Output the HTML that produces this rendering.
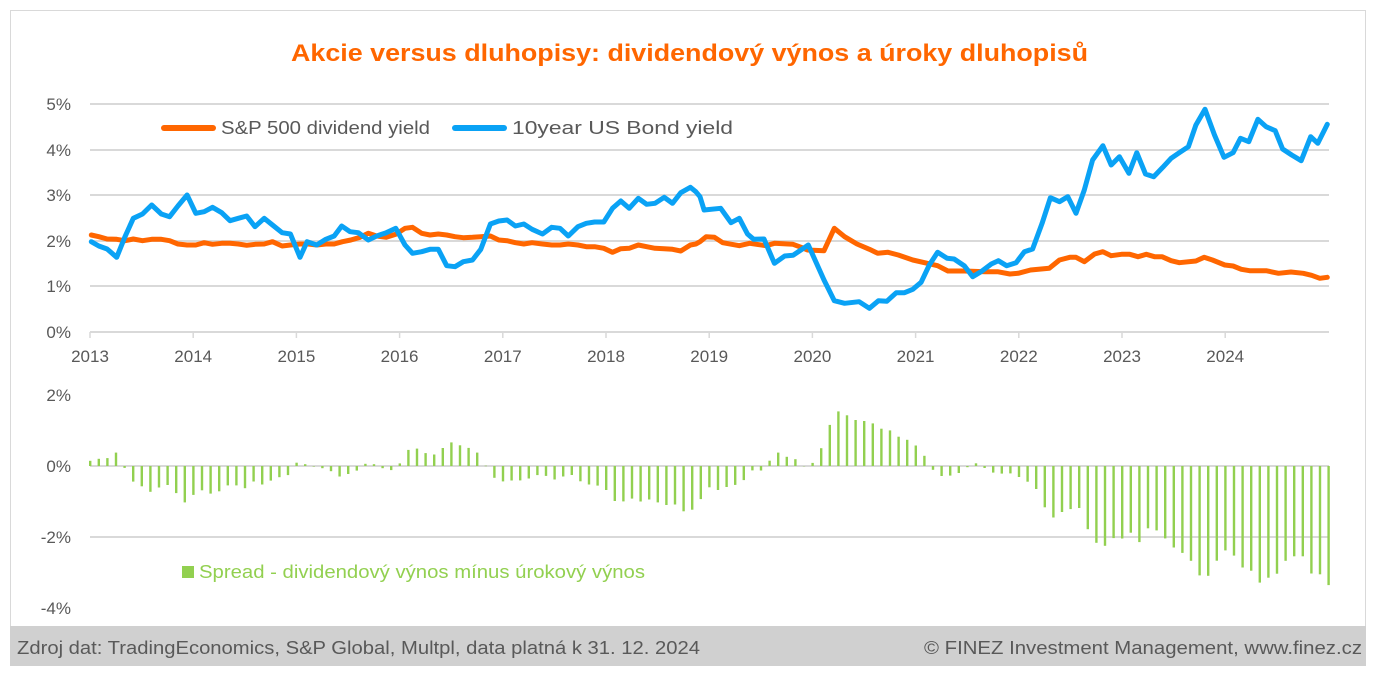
<!DOCTYPE html>
<html><head><meta charset="utf-8"><style>
html,body{margin:0;padding:0;background:#fff;}
svg{display:block;font-family:"Liberation Sans",sans-serif;}
</style></head><body>
<svg id="c" width="1383" height="676" viewBox="0 0 1383 676" xmlns="http://www.w3.org/2000/svg">
<rect x="0" y="0" width="1383" height="676" fill="#fff"/>
<rect x="10.5" y="10.5" width="1355" height="655" fill="#fff" stroke="#d9d9d9"/>
<text x="291" y="61" font-size="24" font-weight="bold" fill="#ff6600" textLength="797" lengthAdjust="spacingAndGlyphs">Akcie versus dluhopisy: dividendový výnos a úroky dluhopisů</text>
<g stroke="#d9d9d9" stroke-width="2">
<line x1="90" y1="104" x2="1329" y2="104"/><line x1="90" y1="150" x2="1329" y2="150"/>
<line x1="90" y1="195" x2="1329" y2="195"/><line x1="90" y1="241" x2="1329" y2="241"/>
<line x1="90" y1="286" x2="1329" y2="286"/><line x1="90" y1="332" x2="1329" y2="332"/>
<line x1="90" y1="466" x2="1329" y2="466"/><line x1="90" y1="537" x2="1329" y2="537"/>
</g>
<g id="ticks" stroke="#d9d9d9" stroke-width="1.5"></g>
<g font-size="17" fill="#595959" text-anchor="end">
<text x="71" y="110">5%</text><text x="71" y="156">4%</text><text x="71" y="201">3%</text>
<text x="71" y="247">2%</text><text x="71" y="292">1%</text><text x="71" y="338">0%</text>
<text x="71" y="401">2%</text><text x="71" y="472">0%</text><text x="71" y="543">-2%</text><text x="71" y="614">-4%</text>
</g>
<g id="years" font-size="17" fill="#595959" text-anchor="middle"></g>
<g id="bars" fill="#92d050"></g>
<polyline id="po" fill="none" stroke="#ff6600" stroke-width="5" stroke-linejoin="round" stroke-linecap="round"/>
<polyline id="pb" fill="none" stroke="#0aa2f5" stroke-width="5" stroke-linejoin="round" stroke-linecap="round"/>
<line x1="164" y1="128" x2="213" y2="128" stroke="#ff6600" stroke-width="6" stroke-linecap="round"/>
<text x="221" y="134" font-size="18" fill="#595959" textLength="209" lengthAdjust="spacingAndGlyphs">S&amp;P 500 dividend yield</text>
<line x1="455" y1="128" x2="504" y2="128" stroke="#0aa2f5" stroke-width="6" stroke-linecap="round"/>
<text x="512" y="134" font-size="18" fill="#595959" textLength="221" lengthAdjust="spacingAndGlyphs">10year US Bond yield</text>
<rect x="182" y="566" width="12" height="12" fill="#92d050"/>
<text x="199" y="578" font-size="18" fill="#92d050" textLength="446" lengthAdjust="spacingAndGlyphs">Spread - dividendový výnos mínus úrokový výnos</text>
<rect x="10" y="626" width="1356" height="40" fill="#d0d0d0"/>
<text x="17" y="654" font-size="18" fill="#595959" textLength="683" lengthAdjust="spacingAndGlyphs">Zdroj dat: TradingEconomics, S&amp;P Global, Multpl, data platná k 31. 12. 2024</text>
<text x="924" y="654" font-size="18" fill="#595959" textLength="438" lengthAdjust="spacingAndGlyphs">© FINEZ Investment Management, www.finez.cz</text>
</svg>
<script>
var NS="http://www.w3.org/2000/svg";
function L(a){var r=[];for(var i=0;i<a.length;i+=2){r.push([80+a[i]/2.4,90+a[i+1]/3]);}return r;}
function R(a){var r=[];for(var i=0;i<a.length;i+=2){r.push([700+a[i]/2.42,90+a[i+1]/3]);}return r;}
var bl=L([27,455,45,468,65,477,88,502,108,440,128,385,150,372,172,345,195,372,215,380,235,348,257,315,278,370,298,365,318,352,340,368,360,392,380,385,400,378,420,410,442,385,462,405,485,428,505,432,528,502,545,455,568,465,590,448,610,438,628,408,648,425,668,428,692,450,712,438,735,428,758,415,780,465,798,490,820,485,840,478,860,478,880,527,900,530,920,515,942,510,962,478,985,402,1005,393,1025,390,1045,408,1065,402,1085,418,1110,432,1132,412,1152,415,1172,438,1195,410,1215,400,1235,396,1257,396,1278,355,1298,333,1318,355,1340,325,1360,343,1380,340,1402,322,1422,340,1442,308,1465,292,1478,305]);
var br=R([0,320,10,360,50,355,75,398,95,385,115,432,130,448,155,447,180,520,205,498,225,496,262,465,300,570,325,632,350,640,385,635,410,655,432,632,452,634,475,608,495,608,515,598,535,577,555,525,575,487,598,505,615,507,640,528,660,560,680,545,705,522,722,512,742,527,765,518,785,485,805,477,828,400,848,323,870,335,890,320,910,370,930,300,950,210,975,167,995,225,1015,200,1038,250,1057,188,1078,252,1098,260,1120,232,1140,205,1160,188,1182,170,1200,105,1222,58,1245,135,1268,202,1290,188,1308,145,1328,155,1350,88,1370,110,1392,122,1410,177,1432,195,1455,212,1478,140,1495,160,1518,103]);
var ol=L([27,435,45,440,65,447,88,448,108,452,128,447,150,452,172,448,195,448,215,452,235,462,257,465,278,465,298,458,318,463,340,460,360,460,380,462,400,466,420,463,442,462,462,455,485,468,505,465,528,462,548,462,568,465,590,462,610,462,630,455,650,450,672,442,692,430,712,438,735,442,758,433,780,415,798,412,820,430,840,435,860,432,880,435,900,440,920,443,942,442,962,440,985,438,1005,450,1025,452,1045,458,1065,462,1085,458,1110,462,1132,465,1152,465,1172,462,1195,465,1215,470,1235,470,1257,475,1278,487,1298,476,1318,475,1340,465,1360,470,1380,475,1402,476,1422,478,1442,483,1465,465,1478,462]);
var or=R([0,455,15,440,35,442,55,458,95,467,120,460,160,467,180,460,225,463,245,472,260,480,300,482,325,415,350,440,380,462,410,478,430,490,455,487,480,495,515,510,550,520,575,527,600,543,640,543,690,545,720,545,750,552,770,550,800,540,845,535,870,510,895,502,910,502,930,515,955,492,975,485,995,497,1020,493,1040,493,1060,500,1080,493,1100,500,1118,500,1140,512,1160,518,1200,513,1220,502,1240,510,1270,525,1290,528,1310,538,1330,542,1370,542,1400,550,1430,546,1460,550,1480,556,1500,565,1518,562]);
var B=bl.concat(br),O=ol.concat(or);
function str(a){return a.map(function(p){return p[0].toFixed(1)+","+p[1].toFixed(1)}).join(" ");}
document.getElementById("pb").setAttribute("points",str(B));
document.getElementById("po").setAttribute("points",str(O));
function interp(a,x){if(x<=a[0][0])return a[0][1];for(var i=1;i<a.length;i++){if(a[i][0]>=x){var t=(x-a[i-1][0])/(a[i][0]-a[i-1][0]);return a[i-1][1]+t*(a[i][1]-a[i-1][1]);}}return a[a.length-1][1];}
var bars=document.getElementById("bars");
for(var i=0;i<=144;i++){var x=90+i*8.6;if(x>1329)x=1329;var s=(interp(B,x)-interp(O,x))/45.6;var h=s*35.5;
var r=document.createElementNS(NS,"rect");r.setAttribute("x",(x-1).toFixed(1));r.setAttribute("width","2.4");
if(h>=0){r.setAttribute("y",(466-h).toFixed(1));r.setAttribute("height",Math.max(h,0.5).toFixed(1));}else{r.setAttribute("y","466");r.setAttribute("height",(-h).toFixed(1));}
bars.appendChild(r);}
var tk=document.getElementById("ticks"),yr=document.getElementById("years");
for(var k=0;k<12;k++){var x=90+k*103.2;var l=document.createElementNS(NS,"line");l.setAttribute("x1",x);l.setAttribute("x2",x);l.setAttribute("y1",332);l.setAttribute("y2",338);tk.appendChild(l);
var t=document.createElementNS(NS,"text");t.setAttribute("x",x);t.setAttribute("y",362);t.textContent=2013+k;yr.appendChild(t);}
</script>
</body></html>
